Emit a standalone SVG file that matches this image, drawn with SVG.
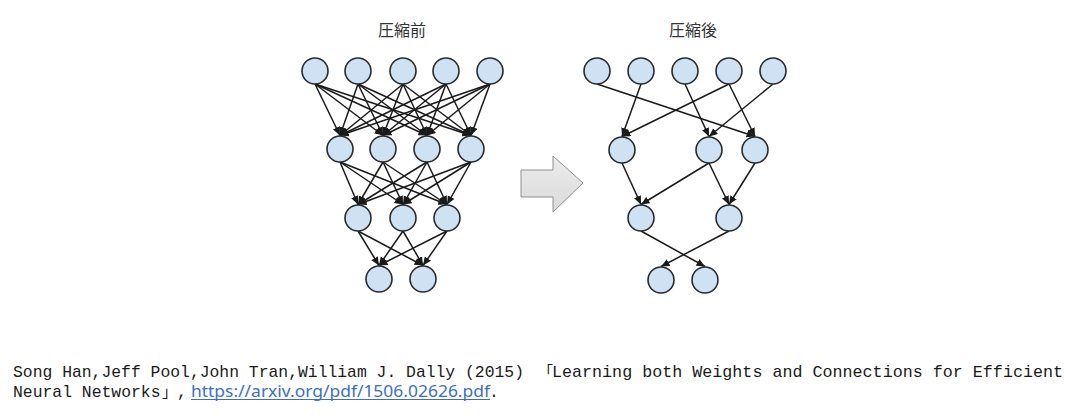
<svg xmlns="http://www.w3.org/2000/svg" width="1078" height="420" viewBox="0 0 1078 420">
<style>
.node circle{fill:#cfe2f3;stroke:#2a2a2a;stroke-width:1.6}
.edge{stroke:#1a1a1a;stroke-width:1.5;fill:none;marker-end:url(#ah)}
.title{font-family:"Noto Sans CJK JP","Noto Sans CJK SC",sans-serif;font-size:16px;fill:#333;text-anchor:middle}
.cite{font-family:"Liberation Mono","Noto Sans CJK JP",monospace;font-size:16.4px;fill:#1a1a1a}
.br{font-family:"Noto Sans CJK JP",sans-serif;font-size:15px;fill:#1a1a1a}
.url{font-family:"Noto Sans","Liberation Sans",sans-serif;font-size:16px;fill:#3b6fc4}
</style>
<defs>
<marker id="ah" markerUnits="userSpaceOnUse" markerWidth="10" markerHeight="8" refX="8.5" refY="3.75" orient="auto">
<path d="M0,0 L8.5,3.75 L0,7.5 z" fill="#1a1a1a"/>
</marker>
<linearGradient id="ag" x1="0" y1="0" x2="0" y2="1">
<stop offset="0" stop-color="#ececec"/>
<stop offset="1" stop-color="#dadada"/>
</linearGradient>
</defs>
<rect width="1078" height="420" fill="#ffffff"/>
<text class="title" x="402" y="36">圧縮前</text>
<text class="title" x="693" y="36">圧縮後</text>
<g id="connectors">
<!-- left L1 -> L2 -->
<line class="edge" x1="315" y1="84" x2="340" y2="135.5"/>
<line class="edge" x1="315" y1="84" x2="383" y2="135.5"/>
<line class="edge" x1="315" y1="84" x2="427" y2="135.5"/>
<line class="edge" x1="315" y1="84" x2="471" y2="135.5"/>
<line class="edge" x1="358" y1="84" x2="340" y2="135.5"/>
<line class="edge" x1="358" y1="84" x2="383" y2="135.5"/>
<line class="edge" x1="358" y1="84" x2="427" y2="135.5"/>
<line class="edge" x1="358" y1="84" x2="471" y2="135.5"/>
<line class="edge" x1="403" y1="84" x2="340" y2="135.5"/>
<line class="edge" x1="403" y1="84" x2="383" y2="135.5"/>
<line class="edge" x1="403" y1="84" x2="427" y2="135.5"/>
<line class="edge" x1="403" y1="84" x2="471" y2="135.5"/>
<line class="edge" x1="446" y1="84" x2="340" y2="135.5"/>
<line class="edge" x1="446" y1="84" x2="383" y2="135.5"/>
<line class="edge" x1="446" y1="84" x2="427" y2="135.5"/>
<line class="edge" x1="446" y1="84" x2="471" y2="135.5"/>
<line class="edge" x1="490" y1="84" x2="340" y2="135.5"/>
<line class="edge" x1="490" y1="84" x2="383" y2="135.5"/>
<line class="edge" x1="490" y1="84" x2="427" y2="135.5"/>
<line class="edge" x1="490" y1="84" x2="471" y2="135.5"/>
<!-- left L2 -> L3 -->
<line class="edge" x1="340" y1="162" x2="358" y2="204.5"/>
<line class="edge" x1="340" y1="162" x2="403" y2="204.5"/>
<line class="edge" x1="340" y1="162" x2="447" y2="204.5"/>
<line class="edge" x1="383" y1="162" x2="358" y2="204.5"/>
<line class="edge" x1="383" y1="162" x2="403" y2="204.5"/>
<line class="edge" x1="383" y1="162" x2="447" y2="204.5"/>
<line class="edge" x1="427" y1="162" x2="358" y2="204.5"/>
<line class="edge" x1="427" y1="162" x2="403" y2="204.5"/>
<line class="edge" x1="427" y1="162" x2="447" y2="204.5"/>
<line class="edge" x1="471" y1="162" x2="358" y2="204.5"/>
<line class="edge" x1="471" y1="162" x2="403" y2="204.5"/>
<line class="edge" x1="471" y1="162" x2="447" y2="204.5"/>
<!-- left L3 -> L4 -->
<line class="edge" x1="358" y1="231" x2="379" y2="265.5"/>
<line class="edge" x1="358" y1="231" x2="423" y2="265.5"/>
<line class="edge" x1="403" y1="231" x2="379" y2="265.5"/>
<line class="edge" x1="403" y1="231" x2="423" y2="265.5"/>
<line class="edge" x1="447" y1="231" x2="379" y2="265.5"/>
<line class="edge" x1="447" y1="231" x2="423" y2="265.5"/>
<!-- right R1 -> R2 -->
<line class="edge" x1="597" y1="84" x2="755" y2="136.5"/>
<line class="edge" x1="641" y1="84" x2="622" y2="136.5"/>
<line class="edge" x1="685" y1="84" x2="709" y2="136.5"/>
<line class="edge" x1="729" y1="84" x2="622" y2="136.5"/>
<line class="edge" x1="729" y1="84" x2="755" y2="136.5"/>
<line class="edge" x1="773" y1="84" x2="709" y2="136.5"/>
<!-- right R2 -> R3 -->
<line class="edge" x1="622" y1="163" x2="641" y2="204.5"/>
<line class="edge" x1="709" y1="163" x2="641" y2="204.5"/>
<line class="edge" x1="709" y1="163" x2="729" y2="204.5"/>
<line class="edge" x1="755" y1="163" x2="729" y2="204.5"/>
<!-- right R3 -> R4 -->
<line class="edge" x1="641" y1="231" x2="705" y2="266.5"/>
<line class="edge" x1="729" y1="231" x2="661" y2="266.5"/>
</g>
<g id="left-l1-1" class="node"><circle cx="315" cy="71" r="13"/></g>
<g id="left-l1-2" class="node"><circle cx="358" cy="71" r="13"/></g>
<g id="left-l1-3" class="node"><circle cx="403" cy="71" r="13"/></g>
<g id="left-l1-4" class="node"><circle cx="446" cy="71" r="13"/></g>
<g id="left-l1-5" class="node"><circle cx="490" cy="71" r="13"/></g>
<g id="left-l2-1" class="node"><circle cx="340" cy="149" r="13"/></g>
<g id="left-l2-2" class="node"><circle cx="383" cy="149" r="13"/></g>
<g id="left-l2-3" class="node"><circle cx="427" cy="149" r="13"/></g>
<g id="left-l2-4" class="node"><circle cx="471" cy="149" r="13"/></g>
<g id="left-l3-1" class="node"><circle cx="358" cy="218" r="13"/></g>
<g id="left-l3-2" class="node"><circle cx="403" cy="218" r="13"/></g>
<g id="left-l3-3" class="node"><circle cx="447" cy="218" r="13"/></g>
<g id="left-l4-1" class="node"><circle cx="379" cy="279" r="13"/></g>
<g id="left-l4-2" class="node"><circle cx="423" cy="279" r="13"/></g>
<g id="right-l1-1" class="node"><circle cx="597" cy="71" r="13"/></g>
<g id="right-l1-2" class="node"><circle cx="641" cy="71" r="13"/></g>
<g id="right-l1-3" class="node"><circle cx="685" cy="71" r="13"/></g>
<g id="right-l1-4" class="node"><circle cx="729" cy="71" r="13"/></g>
<g id="right-l1-5" class="node"><circle cx="773" cy="71" r="13"/></g>
<g id="right-l2-1" class="node"><circle cx="622" cy="150" r="13"/></g>
<g id="right-l2-2" class="node"><circle cx="709" cy="150" r="13"/></g>
<g id="right-l2-3" class="node"><circle cx="755" cy="150" r="13"/></g>
<g id="right-l3-1" class="node"><circle cx="641" cy="218" r="13"/></g>
<g id="right-l3-2" class="node"><circle cx="729" cy="218" r="13"/></g>
<g id="right-l4-1" class="node"><circle cx="661" cy="280" r="13"/></g>
<g id="right-l4-2" class="node"><circle cx="705" cy="280" r="13"/></g>
<g id="compress-arrow">
<polygon points="521,170 553,170 553,156 583,183 553,212 553,197 521,197" fill="url(#ag)" stroke="#8f8f8f" stroke-width="1"/>
</g>
<g id="citation">
<text class="cite" x="13" y="377" textLength="511" lengthAdjust="spacingAndGlyphs">Song Han,Jeff Pool,John Tran,William J. Dally (2015)</text>
<text class="br" x="538" y="377">「</text>
<text class="cite" x="552" y="377" textLength="511" lengthAdjust="spacingAndGlyphs">Learning both Weights and Connections for Efficient</text>
<text class="cite" x="13" y="397" textLength="147.5" lengthAdjust="spacingAndGlyphs">Neural Networks</text>
<text class="br" x="162" y="397">」</text>
<text class="cite" x="177" y="397">,</text>
<text class="url" x="191" y="397" textLength="299" lengthAdjust="spacingAndGlyphs">https://arxiv.org/pdf/1506.02626.pdf</text>
<line x1="191" y1="399.5" x2="490" y2="399.5" stroke="#3b6fc4" stroke-width="1"/>
<text class="cite" x="489" y="397">.</text>
</g>
</svg>
